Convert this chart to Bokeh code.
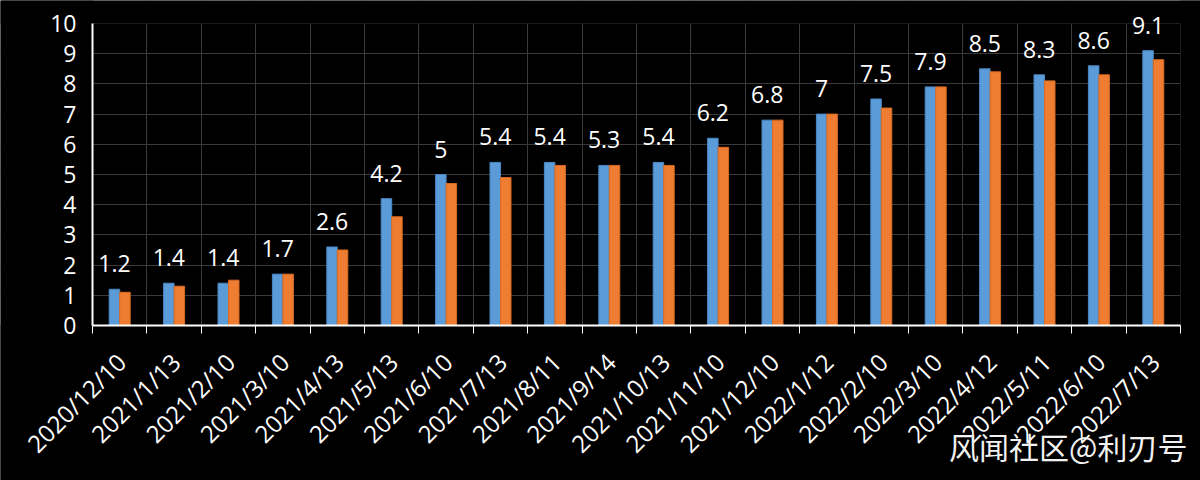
import numpy as np
from bokeh.plotting import figure
from bokeh.models import (ColumnDataSource, FixedTicker, LabelSet, Label,
                          Range1d, BoxAnnotation)
from bokeh.core.properties import value
from bokeh.embed import file_html
from bokeh.resources import INLINE

dates = ["2020/12/10", "2021/1/13", "2021/2/10", "2021/3/10", "2021/4/13",
         "2021/5/13", "2021/6/10", "2021/7/13", "2021/8/11", "2021/9/14",
         "2021/10/13", "2021/11/10", "2021/12/10", "2022/1/12", "2022/2/10",
         "2022/3/10", "2022/4/12", "2022/5/11", "2022/6/10", "2022/7/13"]
series_a = [1.2, 1.4, 1.4, 1.7, 2.6, 4.2, 5.0, 5.4, 5.4, 5.3,
            5.4, 6.2, 6.8, 7.0, 7.5, 7.9, 8.5, 8.3, 8.6, 9.1]
series_b = [1.1, 1.3, 1.5, 1.7, 2.5, 3.6, 4.7, 4.9, 5.3, 5.3,
            5.3, 5.9, 6.8, 7.0, 7.2, 7.9, 8.4, 8.1, 8.3, 8.8]
labels_a = ["1.2", "1.4", "1.4", "1.7", "2.6", "4.2", "5", "5.4", "5.4", "5.3",
            "5.4", "6.2", "6.8", "7", "7.5", "7.9", "8.5", "8.3", "8.6", "9.1"]
y_ticks = [0, 1, 2, 3, 4, 5, 6, 7, 8, 9, 10]

n = len(dates)
centers = np.arange(n) + 0.5
bw = 0.193

# layout geometry (px)
W, H = 1200, 480
origin_x, zero_y = 92, 325
px_per_cat = 54.4
px_per_unit = 30.2

src = ColumnDataSource(dict(
    xa=centers - bw / 2, xb=centers + bw / 2,
    a=series_a, b=series_b, lab=labels_a,
))

p = figure(width=W, height=H, output_backend="svg", toolbar_location=None,
           x_range=Range1d(-origin_x / px_per_cat, (W - origin_x) / px_per_cat),
           y_range=Range1d(-(H - zero_y) / px_per_unit, zero_y / px_per_unit),
           background_fill_color="black", border_fill_color="black",
           min_border=0)
p.outline_line_color = None

# grids (drawn beneath masks that trim them to the chart area)
p.xgrid.ticker = FixedTicker(ticks=list(range(0, n + 1)))
p.ygrid.ticker = FixedTicker(ticks=y_ticks)
for g in (p.xgrid[0], p.ygrid[0]):
    g.grid_line_color = "#3a3a3a"
    g.grid_line_width = 1
    g.level = "image"

for kw in (dict(bottom=10), dict(top=0), dict(left=n), dict(right=0)):
    p.add_layout(BoxAnnotation(fill_color="black", fill_alpha=1.0,
                               line_alpha=0, level="underlay", **kw))

p.vbar(x="xa", top="a", width=bw, source=src, fill_color="#5a9bd8",
       line_color="#4a88c4", line_width=1)
p.vbar(x="xb", top="b", width=bw, source=src, fill_color="#ef7d31",
       line_color="#d86a22", line_width=1)

p.add_layout(LabelSet(x="xa", y="a", text="lab", source=src, y_offset=17,
                      text_align="center", text_baseline="alphabetic",
                      text_color="white", text_font=value("Open Sans"),
                      text_font_size=value("23px")))

# x axis (fixed at y=0)
xa = p.xaxis[0]
xa.fixed_location = 0
xa.bounds = (0, n)
shift = 0.03
xa.ticker = FixedTicker(ticks=[float(c + shift) for c in centers],
                        minor_ticks=list(range(0, n + 1)))
xa.major_label_overrides = {float(c + shift): d for c, d in zip(centers, dates)}
xa.major_label_orientation = np.pi / 4
xa.major_tick_line_color = None
xa.minor_tick_line_color = "white"
xa.minor_tick_in = 0
xa.minor_tick_out = 8
xa.axis_line_color = "white"
xa.axis_line_width = 2
xa.major_label_text_color = "white"
xa.major_label_text_font = "Open Sans"
xa.major_label_text_font_size = "24px"
xa.major_label_standoff = 24

# y axis (fixed at x=0)
ya = p.yaxis[0]
ya.fixed_location = 0
ya.bounds = (0, 10)
ya.ticker = FixedTicker(ticks=y_ticks)
ya.major_tick_line_color = None
ya.major_tick_out = 0
ya.minor_tick_line_color = None
ya.axis_line_color = "white"
ya.axis_line_width = 2
ya.major_label_text_color = "white"
ya.major_label_text_font = "Open Sans"
ya.major_label_text_font_size = "23px"
ya.major_label_standoff = 16

p.add_layout(Label(x=1187, y=13, x_units="screen", y_units="screen",
                   text="风闻社区@利刃号", text_align="right",
                   text_baseline="bottom", text_color="#f2f2f2",
                   text_font="Noto Sans CJK SC", text_font_size="30px"))

open("out.html", "w").write(file_html(p, INLINE))
